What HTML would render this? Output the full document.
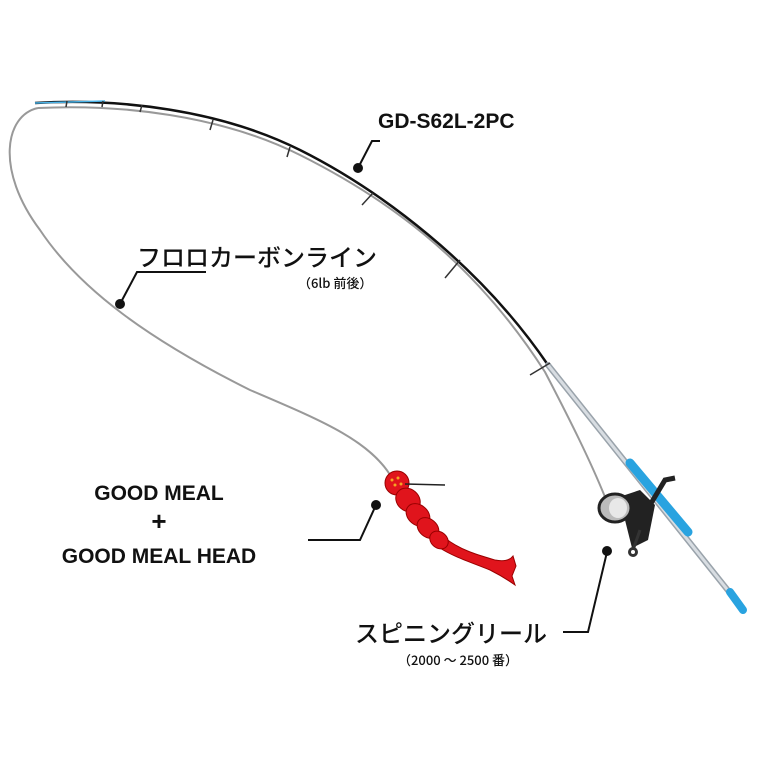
<!DOCTYPE html>
<html><head><meta charset="utf-8"><style>
body{margin:0;background:#fff;}
svg{display:block}
text{font-family:"Liberation Sans","Noto Sans CJK JP",sans-serif;fill:#111}
.jp{font-family:"Noto Sans CJK JP",sans-serif;font-weight:500}
</style></head><body>
<svg width="768" height="768" viewBox="0 0 768 768" xmlns="http://www.w3.org/2000/svg">
<!-- fishing line -->
<path d="M38,108 C5,115 -5,170 40,230 C80,290 150,340 250,390 C320,420 370,440 392,478" fill="none" stroke="#999" stroke-width="2"/>
<path d="M38,108 C120,104 220,115 300,155 C380,195 470,255 545,372 C570,420 590,460 605,497" fill="none" stroke="#999" stroke-width="2"/>
<!-- rod black -->
<path d="M35,103 C120,98 220,110 300,150 C380,190 480,265 548,365" fill="none" stroke="#111" stroke-width="2.5"/>
<path d="M35,103 L105,101" stroke="#4ab3e8" stroke-width="1.5"/>
<!-- rod lower silver -->
<path d="M548,365 L742,608" stroke="#9aa3ab" stroke-width="6" stroke-linecap="round"/>
<path d="M548,365 L742,608" stroke="#d8dde2" stroke-width="3"/>
<path d="M630,463 L688,532" stroke="#29a3e0" stroke-width="9" stroke-linecap="round"/>
<path d="M730,592 L743,610" stroke="#29a3e0" stroke-width="8" stroke-linecap="round"/>
<!-- guides -->
<g stroke="#333" stroke-width="1.5">
<line x1="67" y1="101" x2="66" y2="107"/><line x1="103" y1="101" x2="102" y2="107"/>
<line x1="142" y1="105" x2="140" y2="112"/><line x1="213" y1="120" x2="210" y2="130"/>
<line x1="290" y1="147" x2="287" y2="157"/><line x1="373" y1="193" x2="362" y2="205"/>
<line x1="460" y1="260" x2="445" y2="278"/><line x1="550" y1="363" x2="530" y2="375"/>
</g>
<!-- reel -->
<g>
<path d="M610,500 L640,490 L655,505 L648,540 L632,548 L625,520 Z" fill="#222"/>
<ellipse cx="615" cy="508" rx="16" ry="14" fill="#bbb" stroke="#222" stroke-width="3"/>
<ellipse cx="618" cy="508" rx="9" ry="10" fill="#e8e8e8"/>
<path d="M650,505 L665,480 L675,478" stroke="#222" stroke-width="5" fill="none"/>
<line x1="640" y1="530" x2="633" y2="550" stroke="#333" stroke-width="3"/>
<circle cx="633" cy="552" r="5" fill="#333"/><circle cx="633" cy="552" r="2" fill="#fff"/>
</g>
<!-- lure -->
<g fill="#e0141c" stroke="#900" stroke-width="1">
<path d="M445,538 C460,550 478,555 495,560 C505,562 510,560 513,556 L516,566 L512,576 L515,585 C508,580 500,575 490,570 C470,562 452,556 440,548 Z"/>
<ellipse cx="397" cy="483" rx="12" ry="12"/>
<ellipse cx="408" cy="500" rx="13" ry="11" transform="rotate(40 408 500)"/>
<ellipse cx="418" cy="515" rx="13" ry="10" transform="rotate(40 418 515)"/>
<ellipse cx="428" cy="528" rx="12" ry="9" transform="rotate(40 428 528)"/>
<ellipse cx="439" cy="540" rx="10" ry="8" transform="rotate(40 439 540)"/>
</g>
<g fill="#f5a623"><circle cx="392" cy="480" r="1.5"/><circle cx="398" cy="478" r="1.5"/><circle cx="395" cy="485" r="1.5"/><circle cx="401" cy="484" r="1.5"/></g>
<line x1="405" y1="484" x2="445" y2="485" stroke="#222" stroke-width="1.5"/>
<!-- labels -->
<text x="378" y="128" font-size="21" font-weight="bold">GD-S62L-2PC</text>
<polyline points="358,168 372,141 380,141" fill="none" stroke="#111" stroke-width="2"/>
<circle cx="358" cy="168" r="5" fill="#111"/>
<text class="jp" x="137" y="266" font-size="24">フロロカーボンライン</text>
<text class="jp" x="298" y="288" font-size="13">（6lb 前後）</text>
<polyline points="120,304 137,272 206,272" fill="none" stroke="#111" stroke-width="2"/>
<circle cx="120" cy="304" r="5" fill="#111"/>
<text x="159" y="500" font-size="21" font-weight="bold" text-anchor="middle">GOOD MEAL</text>
<text x="159" y="530" font-size="26" font-weight="bold" text-anchor="middle">+</text>
<text x="159" y="563" font-size="21" font-weight="bold" text-anchor="middle">GOOD MEAL HEAD</text>
<polyline points="308,540 360,540 376,505" fill="none" stroke="#111" stroke-width="2"/>
<circle cx="376" cy="505" r="5" fill="#111"/>
<text class="jp" x="355" y="642" font-size="24">スピニングリール</text>
<text class="jp" x="398" y="665" font-size="13">（2000 ～ 2500 番）</text>
<polyline points="563,632 588,632 607,552" fill="none" stroke="#111" stroke-width="2"/>
<circle cx="607" cy="551" r="5" fill="#111"/>
</svg>
</body></html>
